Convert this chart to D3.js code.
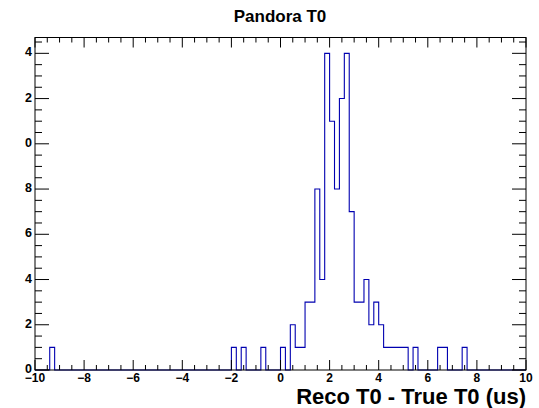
<!DOCTYPE html>
<html>
<head>
<meta charset="utf-8">
<script src="https://cdn.jsdelivr.net/npm/d3@7"></script>
<style>
  html, body { margin: 0; padding: 0; background: #fff; }
  svg { display: block; }
  text { font-family: "Liberation Sans", Arial, Helvetica, sans-serif; font-weight: bold; }
</style>
</head>
<body>
<script>
// ---- data ----
const binLowEdges = [-9.4, -2.0, -1.6, -0.8, 0.0, 0.4, 0.6, 0.8, 1.0, 1.2, 1.4, 1.6, 1.8, 2.0, 2.2, 2.4, 2.6, 2.8, 3.0, 3.2, 3.4, 3.6, 3.8, 4.0, 4.2, 4.4, 4.6, 4.8, 5.0, 5.4, 6.4, 6.6, 7.4];
const binCounts   = [1,    1,    1,    1,    1,   2,   1,   1,   3,   3,   8,   4,   14,  11,  8,   12,  14,  7,   3,   3,   4,   2,   3,   2,   1,   1,   1,   1,   1,   1,   1,   1,   1];
const binWidth = 0.2;
const xTickValues = [-10, -8, -6, -4, -2, 0, 2, 4, 6, 8, 10];
const xTickLabels = ["\u221210", "\u22128", "\u22126", "\u22124", "\u22122", "0", "2", "4", "6", "8", "10"];
const yTickValues = [0, 2, 4, 6, 8, 10, 12, 14];
const yTickLabels = ["0", "2", "4", "6", "8", "0", "2", "4"];   // as shown in the reference (leading digits clipped)
const titleText = "Pandora T0";
const xTitleText = "Reco T0 - True T0 (us)";

// ---- layout ----
const W = 539, H = 408;
const L = 35, R = 526, T = 37.5, B = 370;
const svg = d3.select("body").append("svg").attr("width", W).attr("height", H);

const x = d3.scaleLinear().domain([-10, 10]).range([L, R]);
const y = d3.scaleLinear().domain([0, 14.7]).range([B, T]);

// histogram step outline
const counts = new Map(binLowEdges.map((e, i) => [Math.round(e * 10), binCounts[i]]));
const nBins = Math.round(20 / binWidth);
let pts = [[-10, 0]];
for (let i = 0; i < nBins; i++) {
  const lo = -10 + i * binWidth;
  const c = counts.get(Math.round(lo * 10)) || 0;
  pts.push([lo, c], [lo + binWidth, c]);
}
pts.push([10, 0]);
const line = d3.line().x(d => x(d[0])).y(d => y(d[1]));
svg.append("path").attr("d", line(pts))
  .attr("fill", "none").attr("stroke", "#0000b0").attr("stroke-width", 1.1);

// frame
svg.append("rect").attr("x", L).attr("y", T).attr("width", R - L).attr("height", B - T)
  .attr("fill", "none").attr("stroke", "#000").attr("stroke-width", 1);

// x ticks (bottom & top)
const xMinor = d3.range(-10, 10.001, 0.5);
const g = svg.append("g").attr("stroke", "#000").attr("stroke-width", 1);
xMinor.forEach(v => {
  const major = Math.abs(v % 2) < 1e-6;
  const len = major ? 10 : 5;
  g.append("line").attr("x1", x(v)).attr("x2", x(v)).attr("y1", B).attr("y2", B - len);
  g.append("line").attr("x1", x(v)).attr("x2", x(v)).attr("y1", T).attr("y2", T + len);
});
// y ticks (left & right)
const yMinor = d3.range(0, 14.51, 0.5);
yMinor.forEach(v => {
  const major = Math.abs(v % 2) < 1e-6;
  const len = major ? 14 : 7;
  g.append("line").attr("y1", y(v)).attr("y2", y(v)).attr("x1", L).attr("x2", L + len);
  g.append("line").attr("y1", y(v)).attr("y2", y(v)).attr("x1", R).attr("x2", R - len);
});

// tick labels
svg.append("g").selectAll("text").data(xTickValues).join("text")
  .attr("x", d => x(d)).attr("y", B + 12)
  .attr("text-anchor", "middle").attr("font-size", 12)
  .text((d, i) => xTickLabels[i]);
svg.append("g").selectAll("text").data(yTickValues).join("text")
  .attr("x", L - 3).attr("y", d => y(d) + 3)
  .attr("text-anchor", "end").attr("font-size", 12.5)
  .text((d, i) => yTickLabels[i]);

// titles
svg.append("text").attr("x", 280).attr("y", 22).attr("text-anchor", "middle")
  .attr("font-size", 17).text(titleText);
svg.append("text").attr("x", R).attr("y", 404).attr("text-anchor", "end")
  .attr("font-size", 22).text(xTitleText);
</script>
</body>
</html>
